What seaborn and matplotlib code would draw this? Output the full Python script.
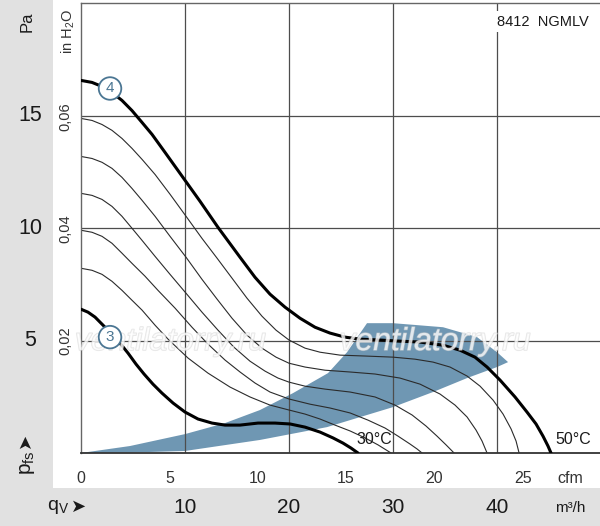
import numpy as np
import pandas as pd
import matplotlib
matplotlib.use("Agg")
import matplotlib.pyplot as plt
import matplotlib.patheffects as pe
from matplotlib.patches import Rectangle
from matplotlib.transforms import blended_transform_factory
import seaborn as sns

# ==========================================
# Data (flow in m3/h, pressure in Pa)
# ==========================================

# curve 4 (50 °C)
curve4_q = [0, 1.06, 2.02, 2.98, 3.94, 4.9, 5.87, 6.83, 8.08, 10.0, 11.44, 13.17, 15.29,
            16.73, 18.17, 19.62, 21.06, 22.5, 23.94, 25.38, 26.83, 28.75, 30.67, 32.6,
            34.81, 36.44, 37.88, 39.04, 40.29, 41.73, 42.88, 43.75, 44.42, 44.9, 45.19]
curve4_p = [16.56, 16.47, 16.29, 16.02, 15.67, 15.22, 14.69, 14.16, 13.36, 12.12, 11.19,
            10.03, 8.7, 7.81, 7.06, 6.48, 5.99, 5.59, 5.33, 5.15, 5.06, 5.02, 4.97, 4.93,
            4.79, 4.57, 4.26, 3.82, 3.24, 2.49, 1.82, 1.29, 0.75, 0.31, 0]

# curve 3 (30 °C)
curve3_q = [0, 0.67, 1.35, 2.12, 2.98, 3.75, 4.52, 5.29, 6.06, 6.92, 7.79, 8.85, 10.0,
            11.25, 12.6, 13.85, 15.29, 17.02, 18.65, 20.1, 21.54, 22.98, 24.23, 25.19,
            25.96, 26.63]
curve3_p = [6.39, 6.26, 6.04, 5.68, 5.28, 4.88, 4.44, 3.95, 3.51, 3.06, 2.66, 2.22, 1.82,
            1.51, 1.33, 1.24, 1.24, 1.33, 1.33, 1.29, 1.15, 0.93, 0.67, 0.44, 0.22, 0]

# intermediate thin curves, top to bottom
thin_a_q = [0, 1.06, 2.02, 2.98, 3.94, 4.9, 5.87, 7.12, 8.56, 10.1, 11.63, 13.08, 14.52,
            15.96, 17.4, 18.75, 20.0, 21.54, 22.98, 24.9, 27.31, 30.0, 32.12, 33.85, 35.48,
            37.12, 38.37, 39.62, 40.58, 41.35, 41.83, 42.12]
thin_a_p = [14.87, 14.78, 14.6, 14.34, 13.98, 13.54, 13.05, 12.38, 11.5, 10.52, 9.54, 8.66,
            7.77, 6.88, 6.08, 5.46, 5.02, 4.66, 4.48, 4.35, 4.31, 4.26, 4.17, 4.04, 3.82,
            3.42, 2.97, 2.35, 1.73, 1.07, 0.53, 0]

thin_b_q = [0, 1.06, 2.02, 2.98, 3.94, 4.9, 5.87, 7.12, 8.56, 10.1, 11.63, 13.08, 14.52,
            15.96, 17.4, 18.75, 20.0, 21.54, 23.46, 25.87, 28.27, 30.67, 32.6, 34.52, 35.96,
            37.12, 37.98, 38.56, 39.04]
thin_b_p = [13.18, 13.09, 12.92, 12.65, 12.25, 11.76, 11.23, 10.52, 9.63, 8.7, 7.72, 6.84,
            5.99, 5.24, 4.66, 4.26, 3.99, 3.82, 3.68, 3.6, 3.51, 3.33, 3.06, 2.62, 2.13,
            1.6, 1.02, 0.53, 0]

thin_c_q = [0, 1.06, 2.02, 2.98, 3.94, 4.9, 5.87, 7.12, 8.56, 10.1, 11.63, 13.17, 14.71,
            16.25, 17.69, 18.94, 20.0, 21.54, 23.46, 25.87, 28.27, 30.19, 31.83, 33.17,
            34.23, 35.1, 35.87]
thin_c_p = [11.54, 11.45, 11.27, 10.96, 10.52, 9.99, 9.45, 8.74, 7.94, 7.1, 6.26, 5.46, 4.7,
            4.08, 3.64, 3.33, 3.15, 2.97, 2.84, 2.71, 2.49, 2.13, 1.69, 1.2, 0.75, 0.36, 0]

thin_d_q = [0, 1.06, 2.02, 2.98, 3.94, 4.9, 6.15, 7.4, 9.04, 10.67, 12.21, 13.85, 15.29,
            16.73, 18.17, 20.0, 22.02, 23.94, 25.87, 27.6, 29.23, 30.48, 31.63, 32.31, 32.79]
thin_d_p = [9.9, 9.81, 9.63, 9.32, 8.88, 8.43, 7.86, 7.23, 6.44, 5.59, 4.84, 4.13, 3.6,
            3.11, 2.71, 2.4, 2.17, 2.0, 1.78, 1.46, 1.11, 0.75, 0.4, 0.18, 0]

thin_e_q = [0, 1.06, 2.02, 2.98, 3.94, 4.9, 5.87, 7.12, 8.37, 10.29, 12.21, 14.33, 16.25,
            18.17, 20.0, 21.54, 22.98, 24.42, 25.87, 27.31, 28.56, 29.81]
thin_e_p = [8.21, 8.12, 7.94, 7.63, 7.23, 6.79, 6.35, 5.68, 5.06, 4.22, 3.55, 2.93, 2.49,
            2.13, 1.91, 1.73, 1.51, 1.24, 0.98, 0.67, 0.36, 0]

# operating range (blue band)
band_top_q = [0, 4.71, 10.0, 13.85, 17.21, 20.38, 23.75, 25.58, 27.5, 30.0, 34.81, 38.08,
              40.0, 41.06]
band_top_p = [0, 0.31, 0.84, 1.33, 1.91, 2.66, 3.55, 4.48, 5.77, 5.77, 5.59, 5.15, 4.48, 4.04]
band_low_q = [41.06, 40.0, 37.12, 33.85, 30.0, 23.65, 17.21, 10.0, 4.71, 0]
band_low_p = [4.04, 3.82, 3.33, 2.71, 2.04, 1.15, 0.58, 0.09, 0.02, 0]

# axes scales
grid_q = [10, 20, 30, 40]
grid_p = [5, 10, 15]
m3h_labels = ["10", "20", "30", "40"]
pa_labels = ["5", "10", "15"]
cfm_ticks = [0, 5, 10, 15, 20, 25]
inh2o_ticks = [0.02, 0.04, 0.06]
CFM_TO_M3H = 1.699
INH2O_TO_PA = 249.09

# ==========================================
# Figure
# ==========================================

sns.set_theme(style="white")
plt.rcParams["font.family"] = ["Liberation Sans", "DejaVu Sans"]

fig = plt.figure(figsize=(6.0, 5.26), dpi=100, facecolor="#e1e1e1")
fig.patches.append(Rectangle((53 / 600, 38 / 526), 1, 1, transform=fig.transFigure,
                             facecolor="white", edgecolor="none", zorder=-10))
ax = fig.add_axes([81 / 600, 73 / 526, 519 / 600, 450 / 526])
ax.set_facecolor("white")

ax.set_xlim(0, 49.9)
ax.set_ylim(0, 20)

# blue operating band
ax.fill(band_top_q + band_low_q, band_top_p + band_low_p, color="#6f97b3",
        lw=0, zorder=1)

for q in grid_q:
    ax.axvline(q, color="#4d4d4d", lw=0.9, zorder=1.5)
for p in grid_p:
    ax.axhline(p, color="#4d4d4d", lw=0.9, zorder=1.5)

thin = [(thin_a_q, thin_a_p), (thin_b_q, thin_b_p), (thin_c_q, thin_c_p),
        (thin_d_q, thin_d_p), (thin_e_q, thin_e_p)]
for q, p in thin:
    sns.lineplot(x=q, y=p, ax=ax, color="#2b2b2b", lw=0.8, sort=False,
                 estimator=None, zorder=2)

for q, p in [(curve4_q, curve4_p), (curve3_q, curve3_p)]:
    sns.lineplot(x=q, y=p, ax=ax, color="black", lw=2.2, sort=False,
                 estimator=None, zorder=3, solid_joinstyle="round")

# spines
for side in ["left", "top"]:
    ax.spines[side].set_color("#666666")
    ax.spines[side].set_linewidth(1.0)
ax.spines["bottom"].set_color("#333333")
ax.spines["bottom"].set_linewidth(1.3)
ax.spines["right"].set_visible(False)

# cfm ticks on the bottom
ax.set_xticks([c * CFM_TO_M3H for c in cfm_ticks])
ax.set_xticklabels([str(c) for c in cfm_ticks], fontsize=11.5, color="#333333")
ax.tick_params(axis="x", direction="out", length=3, width=1, color="#333333", pad=10)

# in H2O ticks on the left
ax.set_yticks([t * INH2O_TO_PA for t in inh2o_ticks])
ax.set_yticklabels([f"{t:.2f}".replace(".", ",") for t in inh2o_ticks], rotation=90,
                   va="center", fontsize=10.5, color="#333333")
ax.tick_params(axis="y", direction="out", length=4, width=0.9, color="#4d4d4d", pad=2)
ax.set_xlabel("")
ax.set_ylabel("")

xt = blended_transform_factory(ax.transData, ax.transAxes)
yt = blended_transform_factory(ax.transAxes, ax.transData)

for q, lab in zip(grid_q, m3h_labels):
    ax.text(q, -0.122, lab, transform=xt, ha="center", va="center", fontsize=15,
            color="#1a1a1a", clip_on=False)
ax.text(47.0, -0.122, "m³/h", transform=xt, ha="center", va="center", fontsize=11,
        color="#1a1a1a", clip_on=False)
ax.text(47.0, -0.056, "cfm", transform=xt, ha="center", va="center", fontsize=11.5,
        color="#333333", clip_on=False)

for p, lab in zip(grid_p, pa_labels):
    ax.text(-0.098, p, lab, transform=yt, ha="center", va="center", fontsize=15.5,
            color="#1a1a1a", clip_on=False)

ax.text(-0.104, 0.958, "Pa", transform=ax.transAxes, ha="center", va="center",
        rotation=90, fontsize=12, color="#1a1a1a", clip_on=False)
ax.text(-0.025, 0.936, "in H$_\\mathregular{2}$O", transform=ax.transAxes, ha="center",
        va="center", rotation=90, fontsize=10.5, color="#333333", clip_on=False)

ax.text(-0.103, -0.022, "p$_\\mathregular{fs}$", transform=ax.transAxes, ha="center",
        va="center", rotation=90, fontsize=15, color="#1a1a1a", clip_on=False)
ax.text(-0.108, 0.029, "➤", transform=ax.transAxes, ha="center", va="center",
        rotation=90, fontsize=13, color="#1a1a1a", clip_on=False,
        family=["DejaVu Sans"])
ax.text(-0.044, -0.12, "q$_\\mathregular{V}$", transform=ax.transAxes, ha="center",
        va="center", fontsize=14, color="#1a1a1a", clip_on=False)
ax.text(-0.004, -0.12, "➤", transform=ax.transAxes, ha="center", va="center",
        fontsize=13, color="#1a1a1a", clip_on=False, family=["DejaVu Sans"])

# curve labels
circle = dict(boxstyle="circle,pad=0.28", fc="white", ec="#4b7693", lw=1.3)
ax.text(2.79, 16.2, "4", ha="center", va="center", fontsize=11, color="#4b7693",
        bbox=circle, zorder=8)
ax.text(2.79, 5.15, "3", ha="center", va="center", fontsize=11, color="#4b7693",
        bbox=circle, zorder=8)
ax.text(26.5, 0.58, "30°C", ha="left", va="center", fontsize=11.5, color="#1a1a1a",
        zorder=5)
ax.text(45.6, 0.58, "50°C", ha="left", va="center", fontsize=11.5, color="#1a1a1a",
        zorder=5)

ax.text(40.0, 19.17, "8412  NGMLV", ha="left", va="center", fontsize=10.5,
        color="#1a1a1a", bbox=dict(boxstyle="square,pad=0.25", fc="white", ec="none"),
        zorder=5)

# watermark
for qc in [8.6, 34.04]:
    ax.text(qc, 4.93, "ventilatorry.ru", ha="center", va="center", fontsize=23,
            style="italic", color="white", alpha=0.55, zorder=6, clip_on=False,
            path_effects=[pe.withStroke(linewidth=1.0, foreground="#d0d0d0")])

fig.savefig("out.png", dpi=100, facecolor=fig.get_facecolor())
